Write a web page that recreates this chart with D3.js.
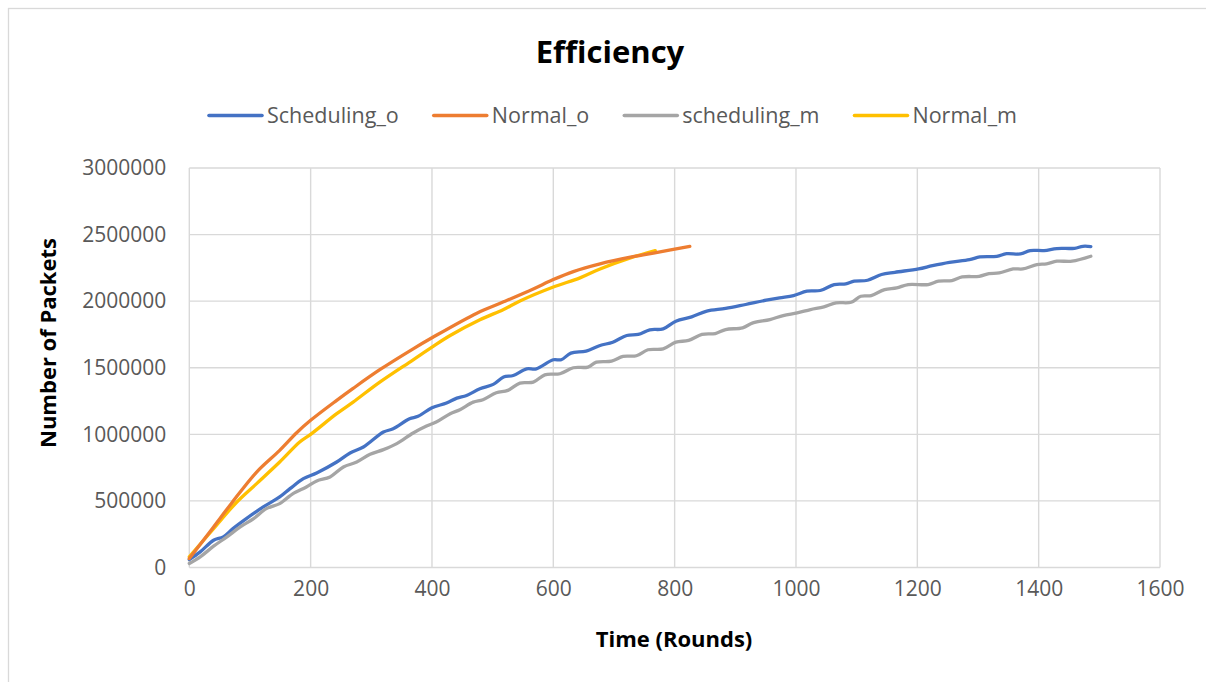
<!DOCTYPE html>
<html>
<head>
<meta charset="utf-8">
<script src="https://cdn.jsdelivr.net/npm/d3@7"></script>
<style>
  html, body { margin: 0; padding: 0; background: #fff; }
  svg { display: block; }
</style>
</head>
<body>
<svg id="chart" width="1206" height="682"></svg>
<script>
// Series (x = rounds, y = packets, thousands)
const schedulingO_x = [0,18,40,56,72,94,122,149,166,188,210,243,265,287,320,336,363,377,400,424,441,457,479,501,518,534,556,572,600,613,629,654,677,698,721,740,759,781,802,828,853,884,917,951,973,996,1018,1040,1063,1082,1096,1118,1141,1163,1202,1225,1253,1286,1303,1331,1347,1370,1386,1409,1430,1459,1473,1486];
const schedulingO_y = [60,117,205,230,292,367,455,530,592,667,710,792,860,905,1017,1042,1117,1135,1200,1235,1272,1292,1342,1375,1430,1442,1492,1492,1560,1560,1610,1625,1667,1692,1742,1750,1785,1792,1850,1882,1925,1945,1975,2007,2025,2042,2075,2080,2125,2130,2150,2157,2200,2217,2242,2267,2292,2312,2332,2337,2357,2355,2380,2380,2395,2397,2412,2410];

const normalO_x = [0,40,70,111,149,177,200,243,270,314,369,400,474,518,567,599,633,677,727,765,825];
const normalO_y = [67,305,485,717,880,1012,1105,1255,1345,1485,1642,1725,1910,1995,2092,2160,2222,2280,2330,2360,2412];

const schedulingM_x = [0,18,40,62,84,106,127,149,160,171,193,210,232,254,276,298,320,342,369,391,407,430,446,468,484,506,525,545,567,586,611,633,657,671,696,715,737,756,781,802,823,845,867,884,912,929,957,979,1002,1024,1046,1066,1091,1107,1124,1146,1166,1185,1218,1235,1257,1274,1302,1318,1335,1358,1374,1397,1413,1430,1455,1486];
const schedulingM_y = [30,80,160,230,305,367,442,480,517,555,605,650,680,755,792,850,885,930,1010,1062,1092,1155,1185,1242,1260,1312,1330,1385,1392,1447,1455,1500,1505,1542,1550,1585,1590,1635,1642,1692,1705,1750,1757,1787,1800,1837,1862,1892,1912,1937,1957,1987,1992,2037,2042,2087,2100,2125,2125,2150,2155,2182,2187,2207,2212,2242,2242,2275,2280,2300,2300,2337];

const normalM_x = [0,40,78,111,149,182,200,243,270,314,369,400,430,479,518,545,599,644,677,727,768];
const normalM_y = [80,292,490,630,792,942,1000,1155,1242,1392,1560,1655,1742,1860,1938,2002,2105,2175,2242,2325,2380];

const seriesNames = ["Scheduling_o", "Normal_o", "scheduling_m", "Normal_m"];
const seriesColors = ["#4472C4", "#ED7D31", "#A5A5A5", "#FFC000"];

const xTicks = [0,200,400,600,800,1000,1200,1400,1600];
const yTicks = [0,500000,1000000,1500000,2000000,2500000,3000000];

const titleText = "Efficiency";
const xTitle = "Time (Rounds)";
const yTitle = "Number of Packets";

// ---- drawing ----
const FONT = "'Open Sans', 'Noto Sans', sans-serif";
const svg = d3.select("#chart");

// outer chart frame
svg.append("rect")
  .attr("x", 8.5).attr("y", 8.5)
  .attr("width", 1220).attr("height", 700)
  .attr("fill", "#fff").attr("stroke", "#D9D9D9").attr("stroke-width", 1.3);

const x = d3.scaleLinear().domain([0, 1600]).range([189.3, 1160]);
const y = d3.scaleLinear().domain([0, 3000000]).range([567.5, 168]);

// gridlines
const grid = svg.append("g");
grid.selectAll("line.v").data(xTicks).join("line")
  .attr("x1", d => x(d)).attr("x2", d => x(d))
  .attr("y1", y(0)).attr("y2", y(3000000))
  .attr("stroke", "#D9D9D9").attr("stroke-width", 1.4);
grid.selectAll("line.h").data(yTicks).join("line")
  .attr("x1", x(0)).attr("x2", x(1600))
  .attr("y1", d => y(d)).attr("y2", d => y(d))
  .attr("stroke", "#D9D9D9").attr("stroke-width", 1.4);

// axes (labels only; lines come from the grid)
const xAxis = svg.append("g")
  .attr("transform", `translate(0,${y(0)})`)
  .call(d3.axisBottom(x).tickValues(xTicks).tickSize(0).tickPadding(24).tickFormat(d3.format("d")));
const yAxis = svg.append("g")
  .attr("transform", `translate(${x(0)},0)`)
  .call(d3.axisLeft(y).tickValues(yTicks).tickSize(0).tickPadding(23).tickFormat(d3.format("d")));
[xAxis, yAxis].forEach(a => {
  a.select(".domain").remove();
  a.selectAll("text")
    .attr("fill", "#595959")
    .style("font-family", FONT)
    .style("font-size", "21px");
});
xAxis.selectAll("text").attr("dy", "0.2em");

// series lines
const seriesData = [
  schedulingO_x.map((v, i) => [v, schedulingO_y[i] * 1000]),
  normalO_x.map((v, i) => [v, normalO_y[i] * 1000]),
  schedulingM_x.map((v, i) => [v, schedulingM_y[i] * 1000]),
  normalM_x.map((v, i) => [v, normalM_y[i] * 1000])
];
const line = d3.line()
  .x(d => x(d[0])).y(d => y(d[1]))
  .curve(d3.curveCatmullRom.alpha(0.5));

const drawOrder = [0, 2, 3, 1];
drawOrder.forEach(i => {
  svg.append("path")
    .datum(seriesData[i])
    .attr("d", line)
    .attr("fill", "none")
    .attr("stroke", seriesColors[i])
    .attr("stroke-width", 3.3)
    .attr("stroke-linecap", "round")
    .attr("stroke-linejoin", "round");
});

// title
svg.append("text")
  .attr("x", 610).attr("y", 63)
  .attr("text-anchor", "middle")
  .style("font-family", FONT).style("font-weight", 700).style("font-size", "31px")
  .attr("fill", "#000")
  .text(titleText);

// axis titles
svg.append("text")
  .attr("x", 674).attr("y", 647)
  .attr("text-anchor", "middle")
  .style("font-family", FONT).style("font-weight", 700).style("font-size", "22px")
  .attr("fill", "#000")
  .text(xTitle);
svg.append("text")
  .attr("transform", "translate(56,343) rotate(-90)")
  .attr("text-anchor", "middle")
  .style("font-family", FONT).style("font-weight", 700).style("font-size", "22px")
  .attr("fill", "#000")
  .text(yTitle);

// legend
const legend = svg.append("g");
let cursor = 0;
seriesNames.forEach((name, i) => {
  const g = legend.append("g");
  g.append("line")
    .attr("x1", 0).attr("x2", 53).attr("y1", 0).attr("y2", 0)
    .attr("stroke", seriesColors[i]).attr("stroke-width", 3.6)
    .attr("stroke-linecap", "round");
  const t = g.append("text")
    .attr("x", 58).attr("y", 7.5)
    .attr("fill", "#595959")
    .style("font-family", FONT).style("font-size", "21.5px")
    .text(name);
  const w = 58 + t.node().getComputedTextLength();
  g.attr("transform", `translate(${cursor},0)`);
  cursor += w + 35;
});
const legendWidth = cursor - 35;
legend.attr("transform", `translate(${613 - legendWidth / 2},115.5)`);
</script>
</body>
</html>
